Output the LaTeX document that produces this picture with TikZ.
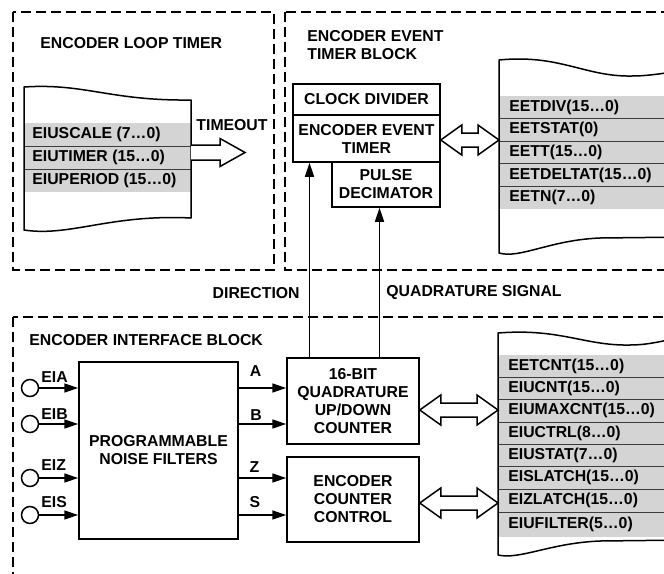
\documentclass[tikz,border=0pt]{standalone}
\usepackage{fontspec}
\setmainfont{Liberation Sans}
\usetikzlibrary{arrows.meta,calc}
\definecolor{regfill}{RGB}{212,212,212}
\definecolor{sepline}{RGB}{60,60,60}
\newcommand\dblarr[2]{%
  \draw[hollow] let \p1=(#1), \p2=(#2) in
    (\x1,\y1) -- (\x1+10.5pt,\y1+7.5pt) -- (\x1+10.5pt,\y1+3.5pt)
    -- (\x2-10.5pt,\y1+3.5pt) -- (\x2-10.5pt,\y1+7.5pt) -- (\x2,\y1)
    -- (\x2-10.5pt,\y1-7.5pt) -- (\x2-10.5pt,\y1-3.5pt)
    -- (\x1+10.5pt,\y1-3.5pt) -- (\x1+10.5pt,\y1-7.5pt) -- cycle;}
\begin{document}
\begin{tikzpicture}[x=0.5pt,y=-0.5pt,
  every node/.style={font=\fontsize{7.9}{9}\selectfont\bfseries, inner sep=0pt},
  blk/.style={draw, line width=0.75pt, align=center},
  dashbox/.style={draw, line width=0.6pt, dash pattern=on 5pt off 2.5pt},
  edge/.style={draw, line width=0.75pt, line join=round},
  sepl/.style={draw=sepline, line width=0.5pt},
  sig/.style={draw, line width=0.75pt, -{Triangle[length=7pt,width=4.5pt]}},
  hollow/.style={draw, fill=white, line width=0.75pt, line join=miter},
  inport/.style={circle, draw, line width=0.75pt, minimum size=8.5pt, fill=white},
  reg/.style={anchor=west}]
\useasboundingbox (0,0) rectangle (664,573);
\clip (0,0) rectangle (664,573);
\fill[white] (0,0) rectangle (664,573);

% dashed frames
\draw[dashbox] (13,12) rectangle (274,270);
\draw[dashbox] (285,12) rectangle (700,270);
\draw[dashbox] (13,317) rectangle (700,600);

% titles
\node[anchor=west] (tloop) at (40,43) {ENCODER LOOP TIMER};
\node[anchor=west, align=left] (tevent) at (307,45) {ENCODER EVENT\\TIMER BLOCK};
\node[anchor=west] (tiface) at (29,340) {ENCODER INTERFACE BLOCK};

% ---------- encoder loop timer register stack
\fill[regfill] (24,123) rectangle (191,192);
\draw[sepl] (24,146) -- (191,146) (24,169) -- (191,169);
\draw[edge] (24,87) .. controls (85,83) and (110,101) .. (191,100) -- (191,218)
  .. controls (110,214) and (70,237) .. (24,230) -- cycle;
\node[reg] (rscale) at (32,134.5) {EIUSCALE (7…0)};
\node[reg] (rtimer) at (32,157.5) {EIUTIMER (15…0)};
\node[reg] (rperiod) at (32,180.5) {EIUPERIOD (15…0)};
\coordinate (ltreg) at (191,152.5);
\draw[hollow] let \p1=(ltreg) in (\x1,\y1+3.75pt) -- (\x1+14.5pt,\y1+3.75pt)
  -- (\x1+14.5pt,\y1+7pt) -- (\x1+27pt,\y1) -- (\x1+14.5pt,\y1-7pt)
  -- (\x1+14.5pt,\y1-3.75pt) -- (\x1,\y1-3.75pt);
\node (ltimeout) at (232,125) {TIMEOUT};

% ---------- encoder event timer block
\node[blk, minimum width=73.5pt, minimum height=15.5pt] (clkdiv) at (366.5,99.5) {CLOCK DIVIDER};
\node[blk, minimum width=73.5pt, minimum height=23.5pt] (eet) at (366.5,138.5) {ENCODER EVENT\\TIMER};
\node[blk, minimum width=54pt, minimum height=22.5pt] (pulse) at (386,184.5) {PULSE\\DECIMATOR};

\fill[regfill] (499,96) rectangle (690,209);
\draw[sepl] (499,118.6) -- (690,118.6) (499,141.2) -- (690,141.2)
  (499,163.8) -- (690,163.8) (499,186.4) -- (690,186.4);
\draw[edge] (690,70) .. controls (668,72) and (652,76) .. (632,76)
  .. controls (585,77) and (560,54) .. (499,60) -- (499,253)
  .. controls (520,259) and (550,240) .. (600,238) -- (690,237);
\node[reg] (reetdiv) at (509,107.3) {EETDIV(15…0)};
\node[reg] (reetstat) at (509,129.9) {EETSTAT(0)};
\node[reg] (reett) at (509,152.5) {EETT(15…0)};
\node[reg] (reetdelta) at (509,175.1) {EETDELTAT(15…0)};
\node[reg] (reetn) at (509,197.7) {EETN(7…0)};
\coordinate (evreg) at (499,140);
\coordinate (eport) at (eet.east |- evreg);
\dblarr{eport}{evreg}

% ---------- encoder interface block
\node[blk, minimum width=79.5pt, minimum height=88.5pt] (pnf) at (158.5,450.5) {PROGRAMMABLE\\NOISE FILTERS};
\node[blk, minimum width=66pt, minimum height=43pt] (quad) at (353,401) {16-BIT\\QUADRATURE\\UP/DOWN\\COUNTER};
\node[blk, minimum width=66pt, minimum height=42.5pt] (ecc) at (353,499.5) {ENCODER\\COUNTER\\CONTROL};

\node[inport] (eia) at (30,388) {};
\node[inport] (eib) at (30,424) {};
\node[inport] (eiz) at (30,478) {};
\node[inport] (eis) at (30,515) {};
\node[anchor=west] (leia) at (41,377) {EIA};
\node[anchor=west] (leib) at (41,414) {EIB};
\node[anchor=west] (leiz) at (41,465) {EIZ};
\node[anchor=west] (leis) at (41,502) {EIS};
\draw[sig] (eia.east) -- (eia.east -| pnf.west);
\draw[sig] (eib.east) -- (eib.east -| pnf.west);
\draw[sig] (eiz.east) -- (eiz.east -| pnf.west);
\draw[sig] (eis.east) -- (eis.east -| pnf.west);

\draw[sig] (eia -| pnf.east) -- (eia -| quad.west);
\draw[sig] (eib -| pnf.east) -- (eib -| quad.west);
\draw[sig] (eiz -| pnf.east) -- (eiz -| ecc.west);
\draw[sig] (eis -| pnf.east) -- (eis -| ecc.west);
\node (la) at (255.5,371) {A};
\node (lb) at (256,415) {B};
\node (lz) at (254.5,467) {Z};
\node (ls) at (255,502) {S};

% signals up to event timer
\coordinate (dirx) at (309.5,0);
\coordinate (qx) at (379.5,0);
\draw[sig] (dirx |- quad.north) -- (dirx |- eet.south);
\draw[sig] (qx |- quad.north) -- (qx |- pulse.south);
\node[anchor=east] (ldir) at (300,293) {DIRECTION};
\node[anchor=west] (lqs) at (386,293) {QUADRATURE SIGNAL};

% interface register stack
\fill[regfill] (498,355) rectangle (690,537);
\draw[sepl] (498,377) -- (690,377) (498,399.5) -- (690,399.5) (498,422) -- (690,422)
  (498,444) -- (690,444) (498,466) -- (690,466) (498,489) -- (690,489) (498,512) -- (690,512);
\draw[edge] (690,336) .. controls (668,339) and (652,345) .. (630,345)
  .. controls (585,346) and (560,328) .. (498,333) -- (498,555)
  .. controls (520,560) and (550,543) .. (600,541) -- (690,540);
\node[reg] (reetcnt) at (508,366) {EETCNT(15…0)};
\node[reg] (reiucnt) at (508,388.25) {EIUCNT(15…0)};
\node[reg] (reiumax) at (508,410.75) {EIUMAXCNT(15…0)};
\node[reg] (reiuctrl) at (508,433) {EIUCTRL(8…0)};
\node[reg] (reiustat) at (508,455) {EIUSTAT(7…0)};
\node[reg] (reislatch) at (508,477.5) {EISLATCH(15…0)};
\node[reg] (reizlatch) at (508,500.5) {EIZLATCH(15…0)};
\node[reg] (reiufilter) at (508,524.5) {EIUFILTER(5…0)};
\coordinate (eireg1) at (498,410);
\coordinate (qport) at (quad.east |- eireg1);
\dblarr{qport}{eireg1}
\coordinate (eireg2) at (498,503);
\coordinate (cport) at (ecc.east |- eireg2);
\dblarr{cport}{eireg2}
\end{tikzpicture}
\end{document}
